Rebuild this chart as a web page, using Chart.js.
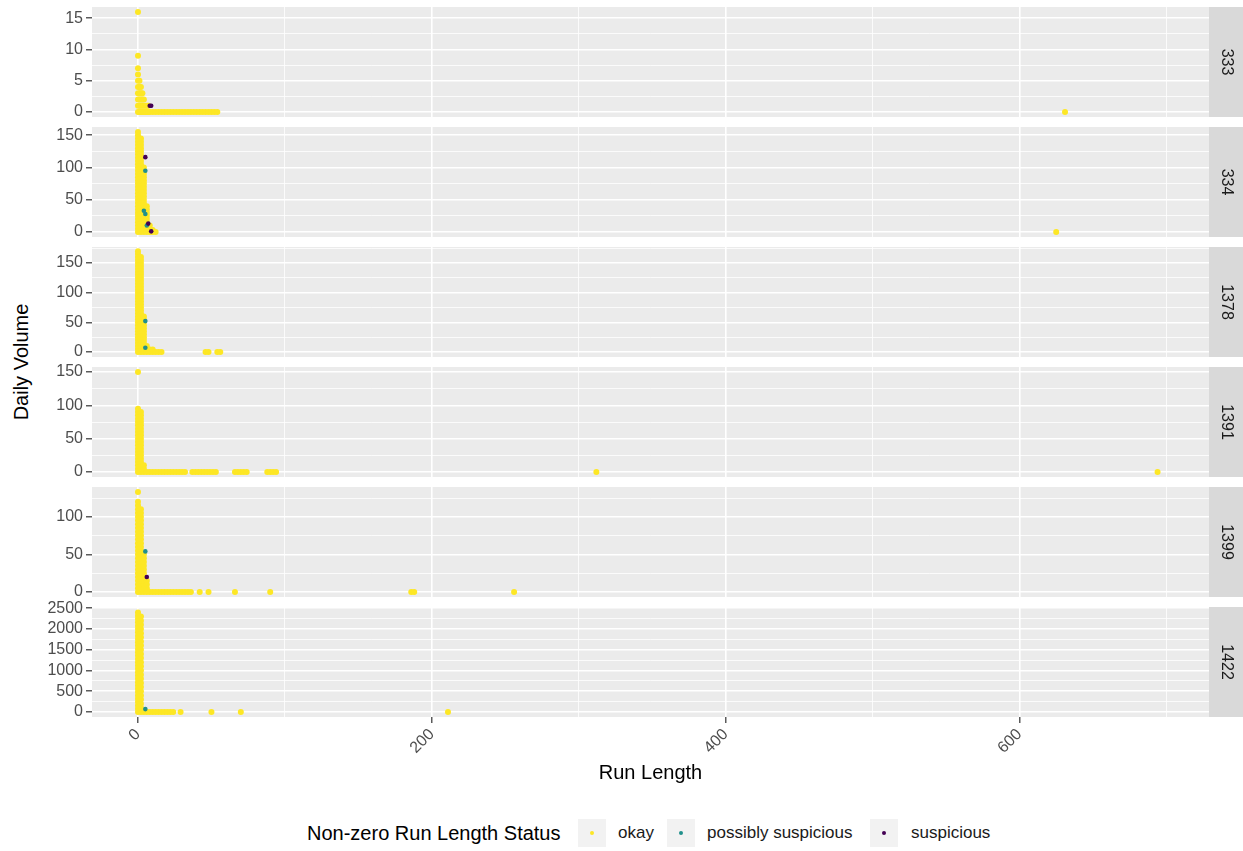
<!DOCTYPE html>
<html>
<head>
<meta charset="utf-8">
<title>Run length vs daily volume</title>
<script src="https://cdn.jsdelivr.net/npm/chart.js@4.4.1/dist/chart.umd.min.js"></script>
<style>
    body { margin: 0; background: #fff; }
    #page { position: relative; width: 1243px; height: 851px; overflow: hidden; font-family: "Liberation Sans", Arial, sans-serif; }
    #page canvas { position: absolute; left: 0; }
    #ylab { position: absolute; left: 21px; top: 362px; transform: translate(-50%, -50%) rotate(-90deg); font-size: 20px; color: #000; white-space: nowrap; }
    .lg { position: absolute; top: 819px; height: 28px; line-height: 28px; white-space: nowrap; }
    .lg-title { font-size: 20px; color: #000; }
    .lg-text { font-size: 17px; color: #1a1a1a; }
    .lg-key { width: 28px; background: #f2f2f2; }
    .lg-key span { position: absolute; left: 12px; top: 12px; width: 4px; height: 4px; border-radius: 50%; }
</style>
</head>
<body>
<div id="page">
    <div id="ylab">Daily Volume</div>
    <div class="lg lg-title" style="left:307px">Non-zero Run Length Status</div>
    <div class="lg lg-key" style="left:578px"><span style="background:#FDE725"></span></div>
    <div class="lg lg-text" style="left:618px">okay</div>
    <div class="lg lg-key" style="left:667px"><span style="background:#21908C"></span></div>
    <div class="lg lg-text" style="left:707px">possibly suspicious</div>
    <div class="lg lg-key" style="left:870px"><span style="background:#440154"></span></div>
    <div class="lg lg-text" style="left:911px">suspicious</div>
</div>
<script>
// facet labels (sensor ids)
const panelIds = ['333', '334', '1378', '1391', '1399', '1422'];

// [run length, daily volume]
const okay333 = [
    [0,0],[0,1],[0,2],[0,3],[0,4],[0,5],[0,6],[0,7],[0,9],[0,16],
    [1,0],[1,1],[1,2],[1,3],[1,4],[1,5],[2,0],[2,1],[2,2],[2,3],[2,4],
    [3,0],[3,1],[3,2],[3,3],[4,0],[4,1],[4,2],[5,0],[5,1],[6,0],[6,1],[7,0],[7,1],
    [8,0],[10,0],[12,0],[14,0],[16,0],[18,0],[20,0],[22,0],[24,0],[26,0],[28,0],[30,0],
    [32,0],[34,0],[36,0],[38,0],[40,0],[42,0],[44,0],[46,0],[48,0],[50,0],[52,0],[54,0],
    [631,0]
];
const poss333 = [];
const susp333 = [[8,1],[9,1]];

const okay334 = [
    [0,0],[0,5],[0,10],[0,15],[0,20],[0,25],[0,30],[0,35],[0,40],[0,45],[0,50],[0,55],[0,60],[0,65],[0,70],[0,75],
    [0,80],[0,85],[0,90],[0,95],[0,100],[0,105],[0,110],[0,115],[0,120],[0,125],[0,130],[0,135],[0,140],[0,145],[0,150],[0,155],
    [2,0],[2,5],[2,10],[2,15],[2,20],[2,25],[2,30],[2,35],[2,40],[2,45],[2,50],[2,55],[2,60],[2,65],[2,70],
    [2,75],[2,80],[2,85],[2,90],[2,95],[2,100],[2,105],[2,110],[2,115],[2,120],[2,125],[2,130],[2,135],[2,140],[2,145],
    [4,0],[4,5],[4,10],[4,15],[4,20],[4,25],[4,30],[4,35],[4,40],[4,45],[4,50],[4,55],[4,60],[4,65],[4,70],
    [4,75],[4,80],[4,85],[4,90],[4,95],[4,100],
    [6,0],[6,5],[6,10],[6,15],[6,20],[6,25],[6,30],[6,35],[6,40],
    [8,0],[8,5],[8,10],[10,0],[10,3],[12,0],
    [625,0]
];
const poss334 = [[5,95],[4,33],[5,28],[6,10]];
const susp334 = [[5,116],[7,13],[9,1]];

const okay1378 = [
    [0,0],[0,5],[0,10],[0,15],[0,20],[0,25],[0,30],[0,35],[0,40],[0,45],[0,50],[0,55],[0,60],[0,65],[0,70],[0,75],[0,80],[0,85],
    [0,90],[0,95],[0,100],[0,105],[0,110],[0,115],[0,120],[0,125],[0,130],[0,135],[0,140],[0,145],[0,150],[0,155],[0,160],[0,165],[0,170],
    [2,0],[2,5],[2,10],[2,15],[2,20],[2,25],[2,30],[2,35],[2,40],[2,45],[2,50],[2,55],[2,60],[2,65],[2,70],[2,75],[2,80],
    [2,85],[2,90],[2,95],[2,100],[2,105],[2,110],[2,115],[2,120],[2,125],[2,130],[2,135],[2,140],[2,145],[2,150],[2,155],[2,160],
    [4,0],[4,5],[4,10],[4,15],[4,20],[4,25],[4,30],[4,35],[4,40],[4,45],[4,50],[4,55],[4,60],
    [6,0],[6,5],[6,10],[8,0],[8,4],[10,0],[10,4],[12,0],[14,0],[16,0],
    [46,0],[48,0],[54,0],[56,0]
];
const poss1378 = [[5,52],[5,7]];
const susp1378 = [];

const okay1391 = [
    [0,0],[0,5],[0,10],[0,15],[0,20],[0,25],[0,30],[0,35],[0,40],[0,45],[0,50],[0,55],[0,60],[0,65],[0,70],[0,75],
    [0,80],[0,85],[0,90],[0,95],[0,150],
    [2,0],[2,5],[2,10],[2,15],[2,20],[2,25],[2,30],[2,35],[2,40],[2,45],[2,50],[2,55],[2,60],[2,65],[2,70],[2,75],
    [2,80],[2,85],[2,90],[4,0],[4,5],[4,10],
    [6,0],[8,0],[10,0],[12,0],[14,0],[16,0],[18,0],[20,0],[22,0],[24,0],[26,0],[28,0],[30,0],[32,0],
    [37,0],[39,0],[41,0],[43,0],[45,0],[47,0],[49,0],[51,0],[53,0],
    [66,0],[68,0],[70,0],[72,0],[74,0],[88,0],[90,0],[92,0],[94,0],
    [312,0],[694,0]
];
const poss1391 = [];
const susp1391 = [];

const okay1399 = [
    [0,0],[0,5],[0,10],[0,15],[0,20],[0,25],[0,30],[0,35],[0,40],[0,45],[0,50],[0,55],[0,60],[0,65],[0,70],[0,75],
    [0,80],[0,85],[0,90],[0,95],[0,100],[0,105],[0,110],[0,115],[0,120],[0,133],
    [2,0],[2,5],[2,10],[2,15],[2,20],[2,25],[2,30],[2,35],[2,40],[2,45],[2,50],[2,55],[2,60],[2,65],[2,70],[2,75],
    [2,80],[2,85],[2,90],[2,95],[2,100],[2,105],[2,110],
    [4,0],[4,5],[4,10],[4,15],[4,20],[4,25],[4,30],[4,35],[4,40],[4,45],[4,50],[6,0],[6,5],[6,10],[6,15],
    [8,0],[10,0],[12,0],[14,0],[16,0],[18,0],[20,0],[22,0],[24,0],[26,0],[28,0],[30,0],[32,0],[34,0],[36,0],
    [42,0],[48,0],[66,0],[90,0],[186,0],[188,0],[256,0]
];
const poss1399 = [[5,54]];
const susp1399 = [[6,20]];

const okay1422 = [
    [0,0],[0,80],[0,160],[0,240],[0,320],[0,400],[0,480],[0,560],[0,640],[0,720],[0,800],[0,880],[0,960],[0,1040],[0,1120],[0,1200],
    [0,1280],[0,1360],[0,1440],[0,1520],[0,1600],[0,1680],[0,1760],[0,1840],[0,1920],[0,2000],[0,2080],[0,2160],[0,2240],[0,2320],[0,2400],
    [2,0],[2,100],[2,200],[2,300],[2,400],[2,500],[2,600],[2,700],[2,800],[2,900],[2,1000],[2,1100],[2,1200],
    [2,1300],[2,1400],[2,1500],[2,1600],[2,1700],[2,1800],[2,1900],[2,2000],[2,2100],[2,2200],[2,2300],
    [4,0],[6,0],[8,0],[10,0],[12,0],[14,0],[16,0],[18,0],[20,0],[22,0],[24,0],
    [29,0],[50,0],[70,0],[211,0]
];
const poss1422 = [[5,70]];
const susp1422 = [];

const okayData = [okay333, okay334, okay1378, okay1391, okay1399, okay1422];
const possData = [poss333, poss334, poss1378, poss1391, poss1399, poss1422];
const suspData = [susp333, susp334, susp1378, susp1391, susp1399, susp1422];

// axis breaks (labelled) and limits per facet
const yBreaks = [[0, 5, 10, 15], [0, 50, 100, 150], [0, 50, 100, 150], [0, 50, 100, 150], [0, 50, 100], [0, 500, 1000, 1500, 2000, 2500]];
const yLimits = [[-0.8, 16.8], [-7.75, 162.75], [-8.5, 177], [-7.5, 157.5], [-6.65, 139.65], [-120, 2530]];
const xBreaks = [0, 200, 400, 600];
const xLimits = [-31.3, 729];

const PANEL_TOP = 7, PANEL_H = 110, PANEL_STEP = 120, PAD = 14, XAXIS_H = 70;

Chart.defaults.font.family = '"Liberation Sans", Arial, sans-serif';

// major breaks plus ggplot-style minor lines halfway between
function withMinor(breaks, lo, hi) {
    const half = (breaks[1] - breaks[0]) / 2;
    const out = [];
    breaks.forEach(b => { out.push(b - half, b); });
    out.push(breaks[breaks.length - 1] + half);
    return out.filter(v => v >= lo && v <= hi);
}

// grey panel background and the facet strip on the right
const facetPlugin = {
    id: 'facet',
    beforeDraw(chart, args, opts) {
        const ctx = chart.ctx;
        const a = chart.chartArea;
        ctx.save();
        ctx.fillStyle = '#EBEBEB';
        ctx.fillRect(a.left, a.top, a.right - a.left, a.bottom - a.top);
        ctx.fillStyle = '#D9D9D9';
        ctx.fillRect(a.right, a.top, chart.width - a.right, a.bottom - a.top);
        ctx.translate((a.right + chart.width) / 2, (a.top + a.bottom) / 2);
        ctx.rotate(Math.PI / 2);
        ctx.fillStyle = '#1A1A1A';
        ctx.font = '16px "Liberation Sans", Arial, sans-serif';
        ctx.textAlign = 'center';
        ctx.textBaseline = 'middle';
        ctx.fillText(opts.label, 0, 0);
        ctx.restore();
    }
};

function gridOpts(breaks, showTicks) {
    const isMajor = c => c.tick && breaks.includes(c.tick.value);
    return {
        color: '#FFFFFF',
        lineWidth: c => isMajor(c) ? 1.6 : 0.8,
        drawTicks: showTicks,
        tickLength: 6,
        tickWidth: c => isMajor(c) ? 1.2 : 0,
        tickColor: c => isMajor(c) ? '#333333' : 'rgba(0,0,0,0)'
    };
}

const page = document.getElementById('page');

panelIds.forEach(function(id, i) {
    const last = i === panelIds.length - 1;
    const h = PAD + PANEL_H + (last ? XAXIS_H : PAD);
    const canvas = document.createElement('canvas');
    canvas.width = 1243;
    canvas.height = h;
    canvas.style.width = '1243px';
    canvas.style.height = h + 'px';
    canvas.style.top = (PANEL_TOP + i * PANEL_STEP - PAD) + 'px';
    page.appendChild(canvas);

    const yGrid = withMinor(yBreaks[i], yLimits[i][0], yLimits[i][1]);
    const xGrid = withMinor(xBreaks, xLimits[0], xLimits[1]);

    new Chart(canvas, {
        type: 'scatter',
        data: {
            datasets: [
                { label: 'suspicious', data: suspData[i], backgroundColor: '#440154', pointRadius: 2.3, order: 0 },
                { label: 'possibly suspicious', data: possData[i], backgroundColor: '#21908C', pointRadius: 2.3, order: 1 },
                { label: 'okay', data: okayData[i], backgroundColor: '#FDE725', pointRadius: 3, order: 2 }
            ]
        },
        options: {
            responsive: false,
            animation: false,
            events: [],
            layout: { padding: { top: PAD, right: 34, bottom: last ? 0 : PAD, left: 0 } },
            elements: { point: { borderWidth: 0 } },
            plugins: {
                legend: { display: false },
                tooltip: { enabled: false },
                facet: { label: id }
            },
            scales: {
                x: {
                    type: 'linear',
                    min: xLimits[0],
                    max: xLimits[1],
                    afterBuildTicks: s => { s.ticks = xGrid.map(v => ({ value: v })); },
                    afterFit: s => { s.height = last ? XAXIS_H : 0; },
                    border: { display: false },
                    grid: gridOpts(xBreaks, last),
                    ticks: {
                        display: last,
                        autoSkip: false,
                        minRotation: 45,
                        maxRotation: 45,
                        padding: 2,
                        color: '#4D4D4D',
                        font: { size: 16 },
                        callback: v => xBreaks.includes(v) ? String(v) : ''
                    },
                    title: {
                        display: last,
                        text: 'Run Length',
                        color: '#000000',
                        font: { size: 20 },
                        padding: { top: 0, bottom: 2 }
                    }
                },
                y: {
                    type: 'linear',
                    min: yLimits[i][0],
                    max: yLimits[i][1],
                    afterBuildTicks: s => { s.ticks = yGrid.map(v => ({ value: v })); },
                    afterFit: s => { s.width = 92; },
                    border: { display: false },
                    grid: gridOpts(yBreaks[i], true),
                    ticks: {
                        autoSkip: false,
                        padding: 3,
                        color: '#4D4D4D',
                        font: { size: 16 },
                        callback: v => yBreaks[i].includes(v) ? String(v) : ''
                    }
                }
            }
        },
        plugins: [facetPlugin]
    });
});
</script>
</body>
</html>
